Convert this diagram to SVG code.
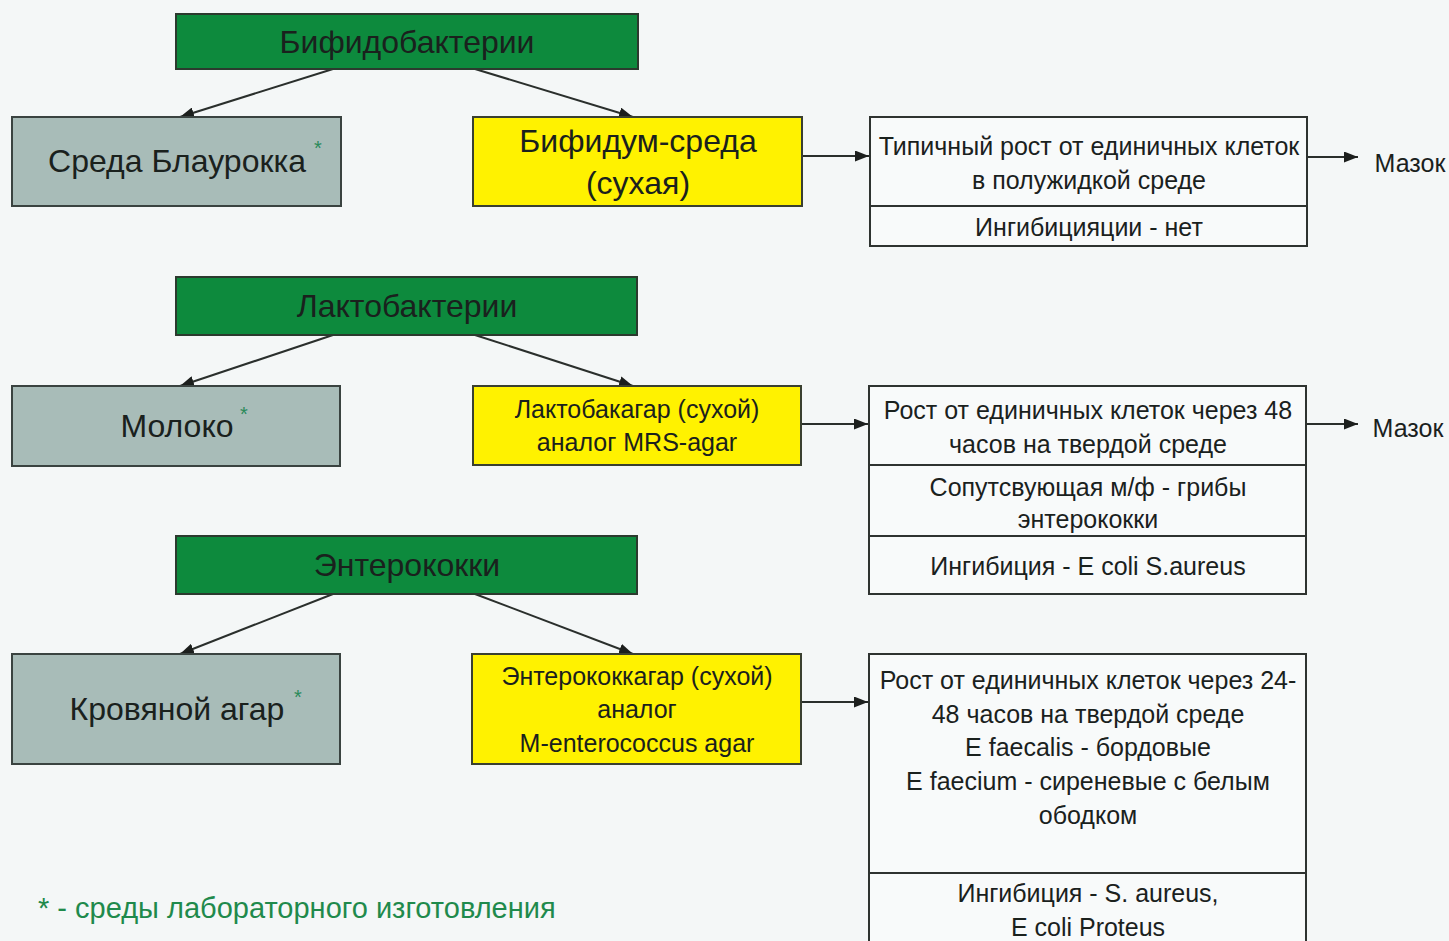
<svg xmlns="http://www.w3.org/2000/svg" width="1449" height="941" viewBox="0 0 1449 941">
<style>
.bg{fill:#f4f7f7}
.grn{fill:#0d8a3d;stroke:#2b3a2e;stroke-width:2}
.gry{fill:#a8bcb8;stroke:#3a4340;stroke-width:2}
.yel{fill:#fff200;stroke:#3a4030;stroke-width:2}
.wht{fill:#f8fafa;stroke:#2e3330;stroke-width:2}
.div{stroke:#2e3330;stroke-width:2}
text{font-family:"Liberation Sans",Arial,sans-serif;fill:#1a211d;text-anchor:middle}
.t32{font-size:32px}
.t24{font-size:25px}
.ast{fill:#2a8a5a;font-size:20px}
.note{fill:#1f8a4c;font-size:29px;text-anchor:start}
.con{stroke:#2a2f2c;stroke-width:2;fill:none;marker-end:url(#ah)}
</style>
<defs>
<marker id="ah" viewBox="0 0 14 11" refX="14" refY="5.5" markerWidth="14" markerHeight="11" markerUnits="userSpaceOnUse" orient="auto">
<path d="M0,0 L14,5.5 L0,11 Z" fill="#1c1f1d"/>
</marker>
</defs>
<rect class="bg" x="0" y="0" width="1449" height="941"/>

<g id="connectors">
<line class="con" x1="333" y1="69" x2="180" y2="117"/>
<line class="con" x1="475" y1="69" x2="633" y2="117"/>
<line class="con" x1="333" y1="335" x2="180" y2="386"/>
<line class="con" x1="475" y1="335" x2="633" y2="386"/>
<line class="con" x1="333" y1="594" x2="180" y2="654"/>
<line class="con" x1="475" y1="594" x2="633" y2="654"/>
<line class="con" x1="802" y1="156" x2="869" y2="156"/>
<line class="con" x1="1307" y1="157" x2="1358" y2="157"/>
<line class="con" x1="801" y1="424" x2="868" y2="424"/>
<line class="con" x1="1306" y1="424" x2="1358" y2="424"/>
<line class="con" x1="801" y1="702" x2="868" y2="702"/>
</g>

<g id="bifido">
<rect class="grn" x="176" y="14" width="462" height="55"/>
<text class="t32" x="407" y="53">Бифидобактерии</text>
</g>
<g id="blaurock">
<rect class="gry" x="12" y="117" width="329" height="89"/>
<text class="t32" x="177" y="172">Среда Блаурокка</text>
<text class="ast" x="318" y="155">*</text>
</g>
<g id="bifidum">
<rect class="yel" x="473" y="117" width="329" height="89"/>
<text class="t32" x="638" y="152">Бифидум-среда</text>
<text class="t32" x="638" y="194">(сухая)</text>
</g>
<g id="bifido-result">
<rect class="wht" x="870" y="117" width="437" height="129"/>
<line class="div" x1="870" y1="206" x2="1307" y2="206"/>
<text class="t24" x="1089" y="155">Типичный рост от единичных клеток</text>
<text class="t24" x="1089" y="189">в полужидкой среде</text>
<text class="t24" x="1089" y="236">Ингибицияции - нет</text>
</g>
<g id="mazok1">
<text class="t24" x="1410" y="172">Мазок</text>
</g>

<g id="lacto">
<rect class="grn" x="176" y="277" width="461" height="58"/>
<text class="t32" x="407" y="317">Лактобактерии</text>
</g>
<g id="milk">
<rect class="gry" x="12" y="386" width="328" height="80"/>
<text class="t32" x="177" y="437">Молоко</text>
<text class="ast" x="244" y="421">*</text>
</g>
<g id="lactoagar">
<rect class="yel" x="473" y="386" width="328" height="79"/>
<text class="t24" x="637" y="418">Лактобакагар (сухой)</text>
<text class="t24" x="637" y="451">аналог MRS-agar</text>
</g>
<g id="lacto-result">
<rect class="wht" x="869" y="386" width="437" height="208"/>
<line class="div" x1="869" y1="465" x2="1306" y2="465"/>
<line class="div" x1="869" y1="536" x2="1306" y2="536"/>
<text class="t24" x="1088" y="419">Рост от единичных клеток через 48</text>
<text class="t24" x="1088" y="453">часов на твердой среде</text>
<text class="t24" x="1088" y="496">Сопутсвующая м/ф - грибы</text>
<text class="t24" x="1088" y="528">энтерококки</text>
<text class="t24" x="1088" y="575">Ингибиция - E coli S.aureus</text>
</g>
<g id="mazok2">
<text class="t24" x="1408" y="437">Мазок</text>
</g>

<g id="entero">
<rect class="grn" x="176" y="536" width="461" height="58"/>
<text class="t32" x="407" y="576">Энтерококки</text>
</g>
<g id="bloodagar">
<rect class="gry" x="12" y="654" width="328" height="110"/>
<text class="t32" x="177" y="720">Кровяной агар</text>
<text class="ast" x="298" y="704">*</text>
</g>
<g id="enteroagar">
<rect class="yel" x="472" y="654" width="329" height="110"/>
<text class="t24" x="637" y="685">Энтерококкагар (сухой)</text>
<text class="t24" x="637" y="718">аналог</text>
<text class="t24" x="637" y="752">M-enterococcus agar</text>
</g>
<g id="entero-result">
<rect class="wht" x="869" y="654" width="437" height="300"/>
<line class="div" x1="869" y1="873" x2="1306" y2="873"/>
<text class="t24" x="1088" y="689">Рост от единичных клеток через 24-</text>
<text class="t24" x="1088" y="723">48 часов на твердой среде</text>
<text class="t24" x="1088" y="756">E faecalis - бордовые</text>
<text class="t24" x="1088" y="790">E faecium - сиреневые с белым</text>
<text class="t24" x="1088" y="824">ободком</text>
<text class="t24" x="1088" y="902">Ингибиция - S. aureus,</text>
<text class="t24" x="1088" y="936">E coli Proteus</text>
</g>

<g id="footnote">
<text class="note" x="38" y="918">* - среды лабораторного изготовления</text>
</g>
</svg>
